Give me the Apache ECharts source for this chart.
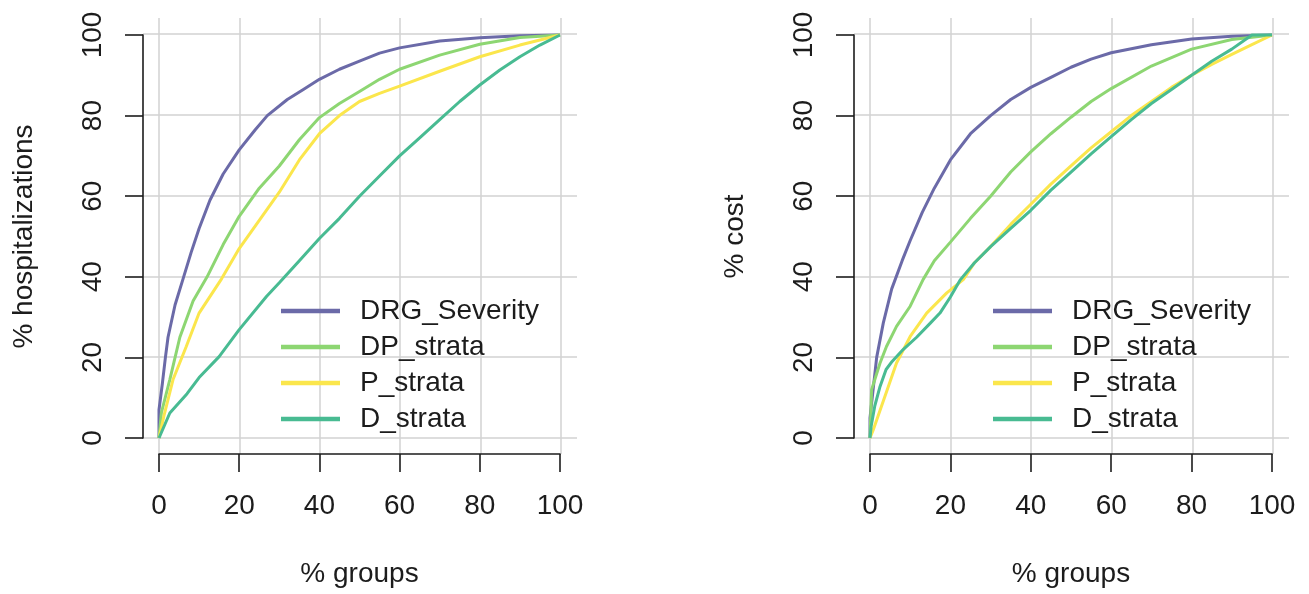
<!DOCTYPE html>
<html>
<head>
<meta charset="utf-8">
<script src="https://cdn.jsdelivr.net/npm/echarts@6/dist/echarts.min.js"></script>
<style>
  html, body { margin: 0; padding: 0; background: #fff; }
  #chart { width: 1309px; height: 594px; }
</style>
</head>
<body>
<div id="chart"></div>
<script>
  // legend / series names
  const names = ['DRG_Severity', 'DP_strata', 'P_strata', 'D_strata'];
  const colors = ['#6b6aa8', '#8dd672', '#fbe64c', '#48bb92'];
  const ticks = [0, 20, 40, 60, 80, 100];

  // left panel: % groups vs % hospitalizations
  const drgHospX = [0, 0, 0.85, 1.6, 2.25, 4, 6, 8, 10, 12.7, 16, 20, 24, 27, 32, 36, 40, 45, 50, 55, 60, 70, 80, 90, 100];
  const drgHospY = [0, 7, 13.6, 20, 25, 33, 39.5, 46, 52, 59, 65.5, 71.5, 76.5, 80, 84, 86.5, 89, 91.5, 93.5, 95.5, 96.8, 98.5, 99.3, 99.8, 100];
  const dpHospX = [0, 0.6, 2.7, 5.2, 8.5, 12, 16, 20, 25, 30, 35, 40, 45, 50, 55, 60, 70, 80, 90, 100];
  const dpHospY = [0, 6.3, 14.5, 25, 34, 40, 48, 55, 62, 67.5, 74, 79.5, 83, 86, 89, 91.5, 95, 97.7, 99.4, 100];
  const pHospX = [0, 1.4, 3.5, 6.8, 10, 15.6, 20, 25, 30, 35, 40, 45, 50, 55, 60, 70, 80, 90, 100];
  const pHospY = [0, 6.2, 14.5, 22.7, 31, 39.5, 47, 54, 61, 69, 75.5, 80, 83.5, 85.5, 87.3, 91, 94.6, 97.5, 100];
  const dHospX = [0, 2.7, 7, 10, 15, 20, 26.8, 30, 35, 40, 45, 50, 55, 60, 65, 70, 75, 80, 85, 90, 95, 100];
  const dHospY = [0, 6.2, 11, 15, 20.2, 26.9, 35.1, 38.5, 44, 49.5, 54.5, 60, 65, 70, 74.5, 79, 83.5, 87.6, 91.3, 94.6, 97.5, 100];

  // right panel: % groups vs % cost
  const drgCostX = [0, 0, 1.66, 3.3, 5.4, 8, 10, 13, 16, 20, 25, 30, 35, 40, 45, 50, 55, 60, 70, 80, 90, 100];
  const drgCostY = [0, 5, 20, 28.5, 37, 44, 49, 56, 62, 69, 75.5, 80, 84, 87, 89.5, 92, 94, 95.6, 97.6, 99, 99.7, 100];
  const dpCostX = [0, 0.4, 1.2, 2.5, 4.1, 6.6, 10, 13.2, 16, 20, 25, 30, 35, 40, 45, 50, 55, 60, 70, 80, 90, 100];
  const dpCostY = [0, 12, 14.5, 18.6, 22.7, 27.7, 32.7, 39.3, 44, 48.6, 54.5, 60, 66, 71, 75.5, 79.6, 83.5, 86.7, 92.3, 96.5, 98.9, 100];
  const pCostX = [0, 0.8, 3.7, 6.6, 10, 14.1, 19.1, 23.2, 26, 30, 35, 40, 45, 50, 55, 60, 65, 70, 75, 80, 85, 90, 95, 100];
  const pCostY = [0, 2, 10.3, 18.6, 25.2, 31, 36, 39.3, 43.5, 47.5, 53, 58, 63, 67.5, 72, 76, 80, 83.5, 87, 90, 92.7, 95.2, 97.6, 100];
  const dCostX = [0, 0.3, 1.2, 2.5, 4, 5.5, 8.3, 11.6, 15, 17.4, 20, 22.5, 26, 30, 35, 40, 45, 50, 55, 60, 65, 70, 75, 80, 85, 90, 95, 100];
  const dCostY = [0, 3, 8, 12.8, 17, 19, 22, 25, 28.5, 31, 35, 39.3, 43.5, 47.5, 52, 56.5, 61.5, 66, 70.5, 74.8, 79, 83, 86.5, 90, 93.5, 96.5, 100, 100];

  const leftSets = [[drgHospX, drgHospY], [dpHospX, dpHospY], [pHospX, pHospY], [dHospX, dHospY]];
  const rightSets = [[drgCostX, drgCostY], [dpCostX, dpCostY], [pCostX, pCostY], [dCostX, dCostY]];

  const font = 'Liberation Sans, Arial, sans-serif';
  const ink = '#1c1c1c';

  function zip(xs, ys) {
    return xs.map((x, i) => [x, ys[i]]);
  }

  // axes that only carry the grey grid (plot region -4..104)
  function gridAxis(idx) {
    return {
      type: 'value', gridIndex: idx, min: -4, max: 104,
      axisLine: { show: false, onZero: false },
      axisTick: { show: false, customValues: ticks },
      axisLabel: { show: false, customValues: ticks },
      splitLine: { show: true, lineStyle: { color: '#d2d2d2', width: 1.5 } }
    };
  }

  // visible axes, 0..100, pushed outside like R's box-less axes
  function xAxisVis(idx) {
    return {
      type: 'value', gridIndex: idx, min: 0, max: 100, interval: 20, offset: 16,
      name: '% groups', nameLocation: 'middle', nameGap: 106,
      nameTextStyle: { fontFamily: font, fontSize: 28, color: ink },
      axisLine: { onZero: false, lineStyle: { color: ink, width: 1.6 } },
      axisTick: { length: 18, lineStyle: { color: ink, width: 1.6 } },
      axisLabel: { margin: 38, fontFamily: font, fontSize: 28, color: ink },
      splitLine: { show: false }
    };
  }
  function yAxisVis(idx, name) {
    return {
      type: 'value', gridIndex: idx, min: 0, max: 100, interval: 20, offset: 16,
      name: name, nameLocation: 'middle', nameGap: 105,
      nameTextStyle: { fontFamily: font, fontSize: 28, color: ink },
      axisLine: { onZero: false, lineStyle: { color: ink, width: 1.6 } },
      axisTick: { length: 18, lineStyle: { color: ink, width: 1.6 } },
      axisLabel: { margin: 36, rotate: 90, fontFamily: font, fontSize: 28, color: ink },
      splitLine: { show: false }
    };
  }

  function legendAt(left) {
    return {
      left: left, top: 292, orient: 'vertical',
      icon: 'rect', itemWidth: 59, itemHeight: 4.5, itemGap: 8,
      data: names,
      textStyle: { fontFamily: font, fontSize: 28, color: ink, padding: [0, 0, 0, 15] }
    };
  }

  let series = [];
  leftSets.forEach((s, i) => {
    series.push({
      name: names[i], type: 'line', xAxisIndex: 1, yAxisIndex: 1,
      data: zip(s[0], s[1]), showSymbol: false, symbol: 'none', clip: false,
      lineStyle: { color: colors[i], width: 3 }, itemStyle: { color: colors[i] }
    });
  });
  rightSets.forEach((s, i) => {
    series.push({
      name: names[i], type: 'line', xAxisIndex: 3, yAxisIndex: 3,
      data: zip(s[0], s[1]), showSymbol: false, symbol: 'none', clip: false,
      lineStyle: { color: colors[i], width: 3 }, itemStyle: { color: colors[i] }
    });
  });

  let myChart = echarts.init(document.getElementById('chart'));
  let option = {
    animation: false,
    backgroundColor: '#fff',
    grid: [
      { left: 143, width: 434, top: 18, height: 436 },
      { left: 159, width: 401, top: 35, height: 403 },
      { left: 854, width: 435, top: 18, height: 436 },
      { left: 870, width: 402, top: 35, height: 403 }
    ],
    xAxis: [gridAxis(0), xAxisVis(1), gridAxis(2), xAxisVis(3)],
    yAxis: [gridAxis(0), yAxisVis(1, '% hospitalizations'), gridAxis(2), yAxisVis(3, '% cost')],
    legend: [legendAt(276), legendAt(988)],
    series: series
  };
  myChart.setOption(option);
</script>
</body>
</html>
